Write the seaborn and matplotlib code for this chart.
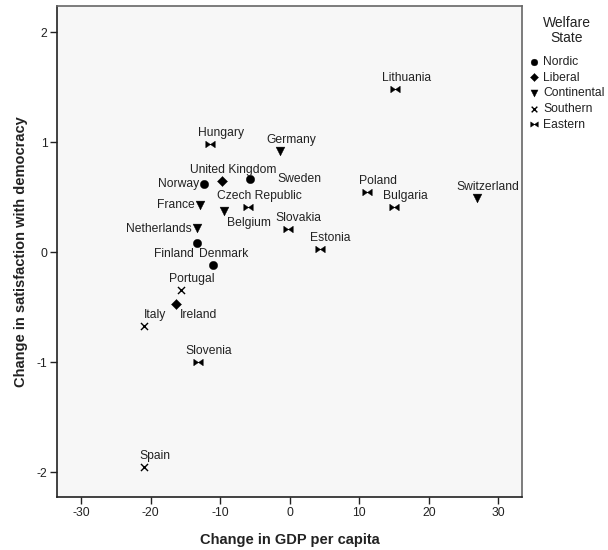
import matplotlib
matplotlib.use("Agg")
import numpy as np
import pandas as pd
import matplotlib.pyplot as plt
import seaborn as sns
from matplotlib.path import Path

# Data
countries = ["Hungary", "Germany", "United Kingdom", "Sweden", "Norway", "France",
             "Belgium", "Czech Republic", "Slovakia", "Netherlands", "Finland",
             "Estonia", "Denmark", "Portugal", "Ireland", "Italy", "Slovenia",
             "Spain", "Lithuania", "Poland", "Bulgaria", "Switzerland"]
gdp_change = [-11.4, -1.4, -9.7, -5.7, -12.3, -12.9, -9.5, -6.0, -0.3, -13.3, -13.3,
              4.3, -11.1, -15.7, -16.3, -20.9, -13.2, -21.0, 15.2, 11.1, 15.0, 26.9]
dem_change = [0.98, 0.92, 0.65, 0.66, 0.62, 0.43, 0.37, 0.41, 0.21, 0.22, 0.08,
              0.03, -0.12, -0.34, -0.47, -0.67, -1.00, -1.95, 1.48, 0.55, 0.41, 0.49]
welfare = ["Eastern", "Continental", "Liberal", "Nordic", "Nordic", "Continental",
           "Continental", "Eastern", "Eastern", "Continental", "Nordic",
           "Eastern", "Nordic", "Southern", "Liberal", "Southern", "Eastern",
           "Southern", "Eastern", "Eastern", "Eastern", "Continental"]
regimes = ["Nordic", "Liberal", "Continental", "Southern", "Eastern"]

df = pd.DataFrame({"Country": countries, "GDP": gdp_change,
                   "Dem": dem_change, "Welfare": welfare})

# bowtie marker with end bars for Eastern
bowtie = Path([(-1, -0.7), (0, 0), (-1, 0.7), (-1, -0.7),
               (1, -0.7), (0, 0), (1, 0.7), (1, -0.7)],
              [Path.MOVETO, Path.LINETO, Path.LINETO, Path.CLOSEPOLY,
               Path.MOVETO, Path.LINETO, Path.LINETO, Path.CLOSEPOLY])
markers = {"Nordic": "o", "Liberal": "D", "Continental": "v",
           "Southern": "x", "Eastern": bowtie}
sizes = {"Nordic": 36, "Liberal": 26, "Continental": 40, "Southern": 26, "Eastern": 46}

# label placement (pixel offsets), default is up-right of the marker
label_pos = {
    "Sweden": (27, 0, "left"),
    "Norway": (-5, 0, "right"),
    "France": (-5, 0, "right"),
    "Netherlands": (-5, -1, "right"),
    "Finland": (-3, -11, "right"),
    "Belgium": (3, -12, "left"),
    "Ireland": (3, -11, "left"),
}

sns.set_theme(style="white")
plt.rcParams["font.family"] = ["Liberation Sans", "DejaVu Sans"]
plt.rcParams["axes.unicode_minus"] = False

fig = plt.figure(figsize=(6.08, 5.5), dpi=100)
ax = fig.add_axes([0.094, 0.096, 0.765, 0.893])
ax.set_facecolor("#f7f7f7")

for r in regimes:
    sub = df[df["Welfare"] == r]
    kw = dict(linewidth=1.0) if r == "Southern" else dict(edgecolor="black", linewidth=0.3)
    sns.scatterplot(data=sub, x="GDP", y="Dem", marker=markers[r], s=sizes[r],
                    color="black", label=r, ax=ax, **kw)

for _, row in df.iterrows():
    dx, dy, ha = label_pos.get(row["Country"], (11, 11, "center"))
    ax.annotate(row["Country"], (row["GDP"], row["Dem"]), xytext=(dx, dy),
                textcoords="offset pixels", ha=ha, va="center",
                fontsize=8.7, color="#222222")

ax.set_xlim(-33.45, 33.45)
ax.set_ylim(-2.227, 2.236)
ax.set_xticks([-30, -20, -10, 0, 10, 20, 30])
ax.set_yticks([-2, -1, 0, 1, 2])
ax.tick_params(axis="both", which="major", length=5, width=1, color="#222222",
               labelsize=8.7, labelcolor="#222222", pad=2, bottom=True, left=True)

for side in ["left", "bottom"]:
    ax.spines[side].set_color("#222222")
    ax.spines[side].set_linewidth(1.2)
for side in ["top", "right"]:
    ax.spines[side].set_color("#666666")
    ax.spines[side].set_linewidth(1.2)

ax.set_xlabel("Change in GDP per capita", fontsize=10.5, fontweight="bold",
              color="#222222", labelpad=10)
ax.set_ylabel("Change in satisfaction with democracy", fontsize=10.5,
              fontweight="bold", color="#222222", labelpad=6)

# legend: title placed separately so it sits centred above the entries
fig.text(567 / 608, 1 - 16 / 550, "Welfare\nState", ha="center", va="top",
         fontsize=10, color="#222222", linespacing=1.1)
leg = ax.legend(loc="upper left", frameon=False,
                bbox_to_anchor=(528 / 608, 1 - 56 / 550), bbox_transform=fig.transFigure,
                fontsize=8.7, handletextpad=0.25, labelspacing=0.3,
                borderaxespad=0, borderpad=0, handlelength=1.0, markerscale=0.8)
for t in leg.get_texts():
    t.set_color("#222222")

fig.savefig("out.png", dpi=100)
